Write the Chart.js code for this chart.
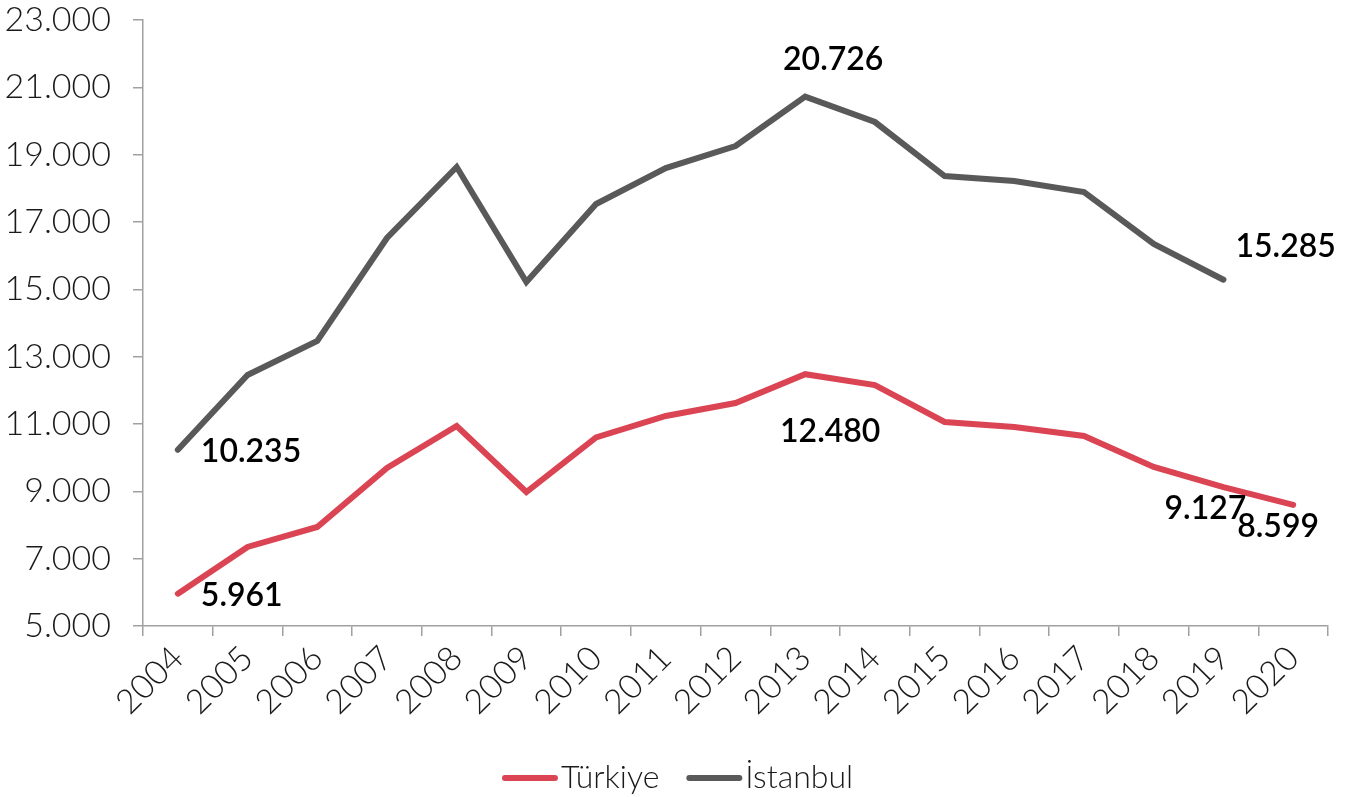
<!DOCTYPE html>
<html>
<head>
<meta charset="utf-8">
<script src="https://cdn.jsdelivr.net/npm/chart.js@4.4.1/dist/chart.umd.min.js"></script>
<style>
  html, body { margin: 0; padding: 0; background: #ffffff; }
  #wrap { position: relative; width: 1355px; height: 797px; }
</style>
</head>
<body>
<div id="wrap"><canvas id="c" width="1355" height="797"></canvas></div>
<script>
const years = ['2004','2005','2006','2007','2008','2009','2010','2011','2012','2013','2014','2015','2016','2017','2018','2019','2020'];
const turkiye = [5961, 7347, 7941, 9693, 10941, 8980, 10600, 11238, 11624, 12480, 12158, 11059, 10911, 10644, 9723, 9127, 8599];
const istanbul = [10235, 12455, 13465, 16525, 18634, 15218, 17535, 18600, 19257, 20726, 19970, 18366, 18218, 17891, 16347, 15285, null];
const seriesNames = ['Türkiye', 'İstanbul'];
const yTicks = [5000, 7000, 9000, 11000, 13000, 15000, 17000, 19000, 21000, 23000];

const colors = ['#DA4453', '#595959'];
const FONT = 'Lato, "Open Sans", sans-serif';

function fmt(v) {
  return String(Math.round(v)).replace(/\B(?=(\d{3})+(?!\d))/g, '.');
}

// which points get a value label, and where (pixel offsets from the point)
const labelSpec = [
  { ds: 1, i: 0,  dx: 23,  dy: 2,   align: 'left' },
  { ds: 0, i: 0,  dx: 23,  dy: 2,   align: 'left' },
  { ds: 1, i: 9,  dx: 28,  dy: -37, align: 'center' },
  { ds: 0, i: 9,  dx: 25,  dy: 58,  align: 'center' },
  { ds: 1, i: 15, dx: 12,  dy: -33, align: 'left' },
  { ds: 0, i: 15, dx: -18, dy: 22,  align: 'center' },
  { ds: 0, i: 16, dx: -15, dy: 22,  align: 'center' }
];

const valueLabels = {
  id: 'valueLabels',
  afterDatasetsDraw(chart) {
    const ctx = chart.ctx;
    ctx.save();
    ctx.font = '600 32px ' + FONT;
    ctx.fillStyle = '#000000';
    ctx.textBaseline = 'middle';
    labelSpec.forEach(s => {
      const el = chart.getDatasetMeta(s.ds).data[s.i];
      const v = chart.data.datasets[s.ds].data[s.i];
      if (!el || v == null) return;
      ctx.textAlign = s.align;
      ctx.fillText(fmt(v), el.x + s.dx, el.y + s.dy);
    });
    ctx.restore();
  }
};

const lineLegend = {
  id: 'lineLegend',
  afterDraw(chart) {
    const ctx = chart.ctx;
    ctx.save();
    ctx.font = '300 32px ' + FONT;
    ctx.textBaseline = 'middle';
    const sw = 56, gapT = 3, gapItem = 27;
    const items = chart.data.datasets.map(d => ({ label: d.label, color: d.borderColor, w: ctx.measureText(d.label).width }));
    const total = items.reduce((a, it) => a + sw + gapT + it.w, 0) + gapItem * (items.length - 1);
    let x = chart.width / 2 - total / 2;
    const y = 778;
    items.forEach(it => {
      ctx.strokeStyle = it.color;
      ctx.lineWidth = 6;
      ctx.lineCap = 'round';
      ctx.beginPath();
      ctx.moveTo(x + 3, y);
      ctx.lineTo(x + sw - 3, y);
      ctx.stroke();
      ctx.fillStyle = '#1a1a1a';
      ctx.textAlign = 'left';
      ctx.fillText(it.label, x + sw + gapT, y);
      x += sw + gapT + it.w + gapItem;
    });
    ctx.restore();
  }
};

new Chart(document.getElementById('c'), {
  type: 'line',
  data: {
    labels: years,
    datasets: [
      { label: seriesNames[0], data: turkiye, borderColor: colors[0], backgroundColor: colors[0],
        borderWidth: 6, pointRadius: 0, tension: 0, borderCapStyle: 'round', borderJoinStyle: 'miter' },
      { label: seriesNames[1], data: istanbul, borderColor: colors[1], backgroundColor: colors[1],
        borderWidth: 6, pointRadius: 0, tension: 0, borderCapStyle: 'round', borderJoinStyle: 'miter', spanGaps: false }
    ]
  },
  options: {
    responsive: false,
    animation: false,
    devicePixelRatio: 1,
    layout: { padding: { top: 20, right: 27, bottom: 0, left: 0 } },
    plugins: { legend: { display: false }, tooltip: { enabled: false } },
    scales: {
      x: {
        offset: true,
        grid: { display: true, drawOnChartArea: false, offset: true, tickLength: 10, color: '#A0A0A0', lineWidth: 1.5 },
        border: { display: true, color: '#A0A0A0', width: 1.5 },
        ticks: { color: '#1a1a1a', font: { family: FONT, size: 34, weight: '300' }, maxRotation: 45, minRotation: 45, padding: 2, autoSkip: false },
        afterFit(scale) { scale.height = 171; scale.paddingLeft = 0; scale.paddingRight = 0; scale.paddingTop = 0; scale.paddingBottom = 0; }
      },
      y: {
        min: 5000, max: 23000,
        afterBuildTicks(scale) { scale.ticks = yTicks.map(v => ({ value: v })); },
        grid: { display: true, drawOnChartArea: false, tickLength: 10, color: '#A0A0A0', lineWidth: 1.5 },
        border: { display: true, color: '#A0A0A0', width: 1.5 },
        ticks: { color: '#1a1a1a', font: { family: FONT, size: 34, weight: '300' }, padding: 22, callback: v => fmt(v) },
        afterFit(scale) { scale.width = 143; scale.paddingTop = 0; scale.paddingBottom = 0; scale.paddingLeft = 0; scale.paddingRight = 0; }
      }
    }
  },
  plugins: [valueLabels, lineLegend]
});
</script>
</body>
</html>
